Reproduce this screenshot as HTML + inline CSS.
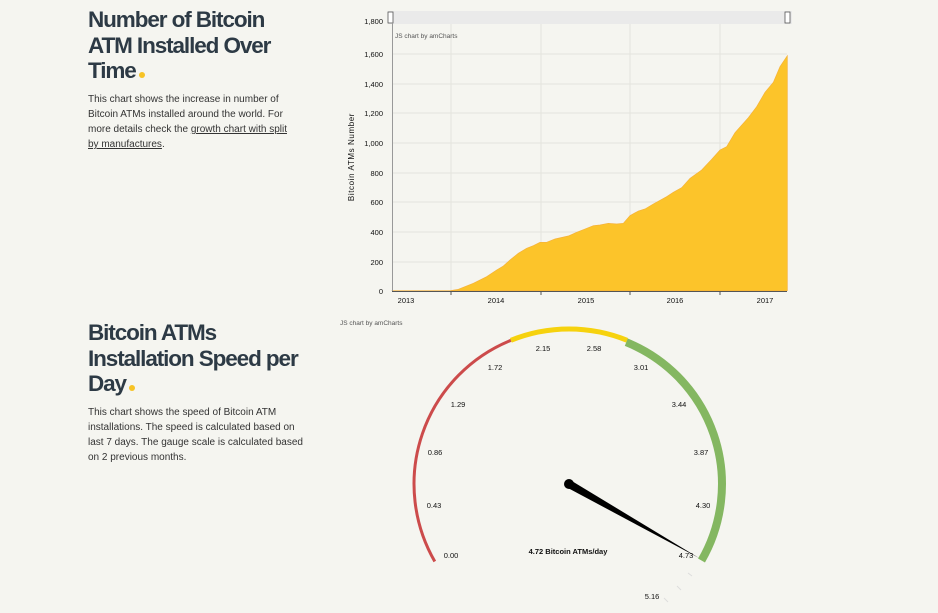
<!DOCTYPE html>
<html><head><meta charset="utf-8"><style>
body{margin:0;width:938px;height:613px;background:#f5f5f0;font-family:"Liberation Sans",sans-serif;position:relative;overflow:hidden;color:#2d3a45}
h1{position:absolute;left:88px;margin:0;font-size:22.5px;line-height:25.5px;font-weight:bold;letter-spacing:-1.1px;color:#2d3a45}
h1 span{display:inline-block;width:6px;height:6px;border-radius:3px;background:#f7c325;margin-left:3px}
p{position:absolute;left:88px;margin:0;font-size:10px;line-height:15px;width:216px;color:#333}
p u{text-decoration:underline}
</style></head><body>
<h1 style="top:7px">Number of Bitcoin<br>ATM Installed Over<br>Time<span></span></h1>
<p style="top:92px;width:208px">This chart shows the increase in number of Bitcoin ATMs installed around the world. For more details check the <u>growth chart with split by manufactures</u>.</p>
<h1 style="top:320px">Bitcoin ATMs<br>Installation Speed per<br>Day<span></span></h1>
<p style="top:405px">This chart shows the speed of Bitcoin ATM installations. The speed is calculated based on last 7 days. The gauge scale is calculated based on 2 previous months.</p>
<svg width="938" height="613" style="position:absolute;left:0;top:0" font-family="Liberation Sans,sans-serif">
<rect x="388" y="11" width="404" height="13" fill="#eaeaea"/>
<rect x="388" y="12" width="5" height="11" fill="#fff" stroke="#555" stroke-width="0.8"/>
<rect x="785" y="12" width="5" height="11" fill="#fff" stroke="#555" stroke-width="0.8"/>
<g stroke="#e3e3de" stroke-width="1">
<line x1="393" x2="787" y1="54" y2="54"/><line x1="393" x2="787" y1="84" y2="84"/><line x1="393" x2="787" y1="113" y2="113"/><line x1="393" x2="787" y1="143" y2="143"/><line x1="393" x2="787" y1="173" y2="173"/><line x1="393" x2="787" y1="202" y2="202"/><line x1="393" x2="787" y1="232" y2="232"/><line x1="393" x2="787" y1="262" y2="262"/>
<line x1="451" x2="451" y1="24" y2="291"/><line x1="541" x2="541" y1="24" y2="291"/><line x1="630" x2="630" y1="24" y2="291"/><line x1="720" x2="720" y1="24" y2="291"/>
</g>
<g transform="translate(340,5) scale(0.33333)">
<path d="M155,857 L330,857 L355,853 L400,835 L440,815 L470,795 L490,783 L510,765 L535,745 L560,730 L580,722 L600,712 L620,712 L645,702 L685,693 L710,682 L735,672 L760,662 L780,660 L805,655 L830,657 L850,655 L870,632 L895,618 L915,612 L940,597 L980,575 L1000,562 L1025,548 L1050,520 L1085,495 L1115,463 L1140,435 L1160,425 L1185,383 L1225,338 L1250,305 L1275,262 L1300,232 L1320,185 L1342,152 L1342,857 Z" fill="#fcc42a" stroke="#f5b13a" stroke-width="2"/>
</g>
<line x1="392.5" x2="392.5" y1="22" y2="292" stroke="#999" stroke-width="1"/>
<line x1="392" x2="787" y1="291.5" y2="291.5" stroke="#555" stroke-width="1"/>
<g stroke="#555" stroke-width="1"><line x1="451" x2="451" y1="291" y2="295"/><line x1="541" x2="541" y1="291" y2="295"/><line x1="630" x2="630" y1="291" y2="295"/><line x1="720" x2="720" y1="291" y2="295"/></g>
<g font-size="7.5" fill="#111" text-anchor="end">
<text x="383" y="24">1,800</text><text x="383" y="57">1,600</text><text x="383" y="87">1,400</text><text x="383" y="116">1,200</text><text x="383" y="146">1,000</text><text x="383" y="176">800</text><text x="383" y="205">600</text><text x="383" y="235">400</text><text x="383" y="265">200</text><text x="383" y="294">0</text>
</g>
<g font-size="7.5" fill="#111" text-anchor="middle">
<text x="406" y="303">2013</text><text x="496" y="303">2014</text><text x="586" y="303">2015</text><text x="675" y="303">2016</text><text x="765" y="303">2017</text>
</g>
<text x="354" y="157" font-size="8" fill="#111" text-anchor="middle" transform="rotate(-90 354 157)" letter-spacing="0.6">Bitcoin ATMs Number</text>
<text x="395" y="38" font-size="6.5" fill="#555">JS chart by amCharts</text>
<text x="340" y="325" font-size="6.5" fill="#555">JS chart by amCharts</text>
<path d="M434.8,561.5 A155,155 0 0 1 510.9,340.3" fill="none" stroke="#cc4b4b" stroke-width="3"/>
<path d="M510.9,340.3 A155,155 0 0 1 627.1,340.3" fill="none" stroke="#f6d20e" stroke-width="5"/>
<path d="M626.3,342.2 A153,153 0 0 1 701.5,560.5" fill="none" stroke="#84b761" stroke-width="8"/>
<g stroke="#ddd" stroke-width="1"><line x1="688" y1="573" x2="692" y2="576"/><line x1="677" y1="586" x2="681" y2="590"/><line x1="664" y1="598" x2="668" y2="602"/></g>
<g font-size="7.5" fill="#111" text-anchor="middle">
<text x="451" y="558">0.00</text><text x="434" y="508">0.43</text><text x="435" y="455">0.86</text><text x="458" y="407">1.29</text><text x="495" y="370">1.72</text><text x="543" y="351">2.15</text><text x="594" y="351">2.58</text><text x="641" y="370">3.01</text><text x="679" y="407">3.44</text><text x="701" y="455">3.87</text><text x="703" y="508">4.30</text><text x="686" y="558">4.73</text><text x="652" y="599">5.16</text>
</g>
<polygon points="571,480.5 567,487.5 699,558" fill="#000"/>
<circle cx="569" cy="484" r="5" fill="#000"/>
<text x="568" y="554" font-size="7.5" font-weight="bold" fill="#111" text-anchor="middle">4.72 Bitcoin ATMs/day</text>
</svg>
</body></html>
